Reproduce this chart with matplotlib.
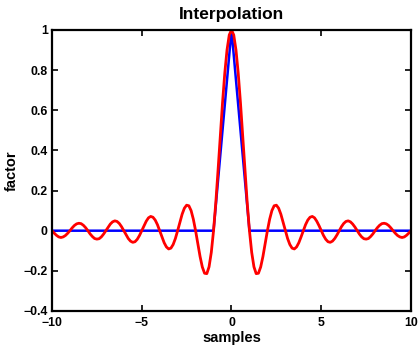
import numpy as np
import matplotlib.pyplot as plt

plt.rcParams['font.family'] = ['Liberation Sans', 'DejaVu Sans']
plt.rcParams['font.weight'] = 'bold'

# sinc kernel, one side (x = 0, 0.125, ..., 10), mirrored
step = 0.125
sinc_half = [1.0, 0.975, 0.900, 0.784, 0.637, 0.471, 0.300, 0.139,
             0.0, -0.108, -0.180, -0.214, -0.212, -0.181, -0.129, -0.065,
             0.0, 0.057, 0.100, 0.124, 0.127, 0.112, 0.082, 0.042,
             0.0, -0.039, -0.069, -0.087, -0.091, -0.081, -0.060, -0.031,
             0.0, 0.030, 0.053, 0.067, 0.071, 0.064, 0.047, 0.025,
             0.0, -0.024, -0.043, -0.055, -0.058, -0.052, -0.039, -0.021,
             0.0, 0.020, 0.036, 0.046, 0.049, 0.044, 0.033, 0.018,
             0.0, -0.017, -0.031, -0.040, -0.042, -0.039, -0.029, -0.016,
             0.0, 0.015, 0.027, 0.035, 0.037, 0.034, 0.026, 0.014,
             0.0, -0.013, -0.024, -0.031, -0.034, -0.031, -0.023, -0.012,
             0.0]

# linear (triangle) kernel
lin_x = [-10, -1, 0, 1, 10]
lin_y = [0, 0, 1, 0, 0]

xticks = [-10, -5, 0, 5, 10]
yticks = [-0.4, -0.2, 0, 0.2, 0.4, 0.6, 0.8, 1]

xh = np.arange(len(sinc_half)) * step
sx = np.concatenate([-xh[:0:-1], xh])
sy = np.concatenate([sinc_half[:0:-1], sinc_half])

fig = plt.figure(figsize=(4.19, 3.52), dpi=100)
ax = fig.add_axes([0.124, 0.1165, 0.857, 0.7985])
ax.plot(lin_x, lin_y, color='#0000ff', lw=1.8)
ax.plot(sx, sy, color='#ff0000', lw=2.0)

ax.set_xlim(-10, 10)
ax.set_ylim(-0.4, 1)
ax.set_xticks(xticks)
ax.set_xticklabels(['\u221210', '\u22125', '0', '5', '10'])
ax.set_yticks(yticks)
ax.set_yticklabels(['\u22120.4', '\u22120.2', '0', '0.2', '0.4', '0.6', '0.8', '1'])
ax.tick_params(direction='in', top=True, right=True, length=4, width=1.2,
               labelsize=8.8)
ax.tick_params(axis='x', pad=4)
ax.tick_params(axis='y', pad=3)
for s in ax.spines.values():
    s.set_linewidth(1.6)

ax.set_title('Interpolation', fontsize=12.5, fontweight='bold', pad=8)
ax.set_xlabel('samples', fontsize=10.5, fontweight='bold', labelpad=2)
ax.set_ylabel('factor', fontsize=10.5, fontweight='bold', labelpad=3)

fig.savefig('out.png', dpi=100)
